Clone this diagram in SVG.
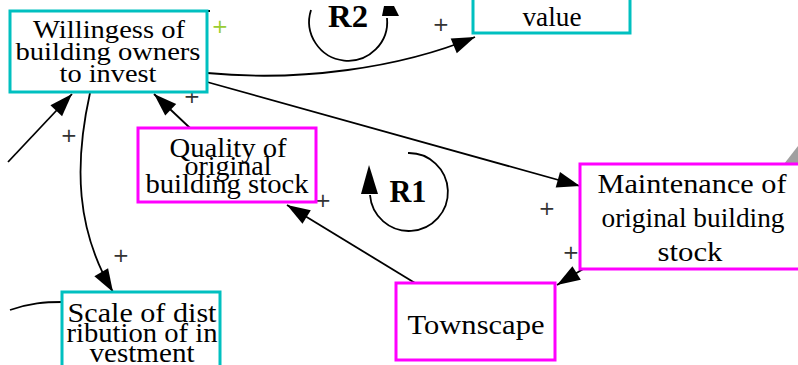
<svg xmlns="http://www.w3.org/2000/svg" width="798" height="365" viewBox="0 0 798 365">
<style>
.teal{fill:#fff;stroke:#00c0c0;stroke-width:3}
.mag{fill:#fff;stroke:#ff00ff;stroke-width:3}
.t{font-family:"Liberation Serif",serif;font-size:28px;fill:#000;text-anchor:middle}
.w{font-size:26px}
.e{fill:none;stroke:#000;stroke-width:1.8}
.p{font-family:"DejaVu Sans",sans-serif;font-size:20px;fill:#333;text-anchor:middle}
.lp{font-family:"Liberation Serif",serif;font-size:31px;font-weight:bold;fill:#000;text-anchor:middle}
</style>
<defs>
<marker id="ah" markerUnits="userSpaceOnUse" markerWidth="24" markerHeight="18" refX="23" refY="8" orient="auto" overflow="visible">
<path d="M0,0 L23,8 L0,16 z" fill="#000"/>
</marker>
</defs>
<rect width="798" height="365" fill="#fff"/>

<g id="connectors">
<path class="e" d="M207,73 C300,82 400,68 475,37" marker-end="url(#ah)"/>
<path class="e" d="M207,82 L580,186" marker-end="url(#ah)"/>
<path class="e" d="M588,266 L557,285" marker-end="url(#ah)"/>
<path class="e" d="M415,283 L287,205" marker-end="url(#ah)"/>
<path class="e" d="M190,128 L154,94" marker-end="url(#ah)"/>
<path class="e" d="M90,93 C74,165 76,230 113,292" marker-end="url(#ah)"/>
<path class="e" d="M8,162 L72,94" marker-end="url(#ah)"/>
<path class="e" d="M10,310 C30,303 45,302 62,302"/>
<line x1="183" y1="11" x2="210" y2="11" stroke="#000" stroke-width="2"/>
<path class="e" d="M311,10 A39,39 0 1 0 387,18"/>
<polygon points="382,16 399,16 394,6 384,6" fill="#000"/>
<path class="e" d="M408,153 A39,39 0 1 1 370,195"/>
<polygon points="369,165 361,194 378,194" fill="#000"/>
<polygon points="784,164 798,146 798,163" fill="#a0a0a0"/>
<text class="p" x="441" y="31">+</text>
<text class="p" x="547" y="215">+</text>
<text class="p" x="571" y="259">+</text>
<text class="p" x="323" y="207">+</text>
<text class="p" x="192" y="103">+</text>
<text class="p" x="121" y="262">+</text>
<text class="p" x="69" y="142">+</text>
<text class="p" x="220" y="33" style="fill:#9acd32">+</text>
<text class="lp" x="348" y="27" textLength="40" lengthAdjust="spacingAndGlyphs">R2</text>
<text class="lp" x="408" y="202" textLength="37" lengthAdjust="spacingAndGlyphs">R1</text>
</g>

<g id="willingess">
<rect class="teal" x="10" y="11" width="197" height="81"/>
<text class="t w" x="109" y="38" textLength="152" lengthAdjust="spacingAndGlyphs">Willingess of</text>
<text class="t w" x="108" y="60" textLength="185" lengthAdjust="spacingAndGlyphs">building owners</text>
<text class="t w" x="108" y="82" textLength="97" lengthAdjust="spacingAndGlyphs">to invest</text>
</g>
<g id="value">
<rect class="teal" x="473" y="-20" width="157" height="53"/>
<text class="t" x="552" y="26" textLength="59" lengthAdjust="spacingAndGlyphs">value</text>
</g>
<g id="quality">
<rect class="mag" x="138" y="128" width="178" height="74"/>
<text class="t" x="228" y="157" textLength="117" lengthAdjust="spacingAndGlyphs">Quality of</text>
<text class="t" x="228" y="175" textLength="87" lengthAdjust="spacingAndGlyphs">original</text>
<text class="t" x="227" y="193" textLength="163" lengthAdjust="spacingAndGlyphs">building stock</text>
</g>
<g id="maintenance">
<rect class="mag" x="580" y="164" width="230" height="105"/>
<text class="t" x="692" y="193" textLength="189" lengthAdjust="spacingAndGlyphs">Maintenance of</text>
<text class="t" x="693" y="227" textLength="183" lengthAdjust="spacingAndGlyphs">original building</text>
<text class="t" x="690" y="261" textLength="65" lengthAdjust="spacingAndGlyphs">stock</text>
</g>
<g id="townscape">
<rect class="mag" x="396" y="283" width="159" height="77"/>
<text class="t" x="476" y="334" textLength="137" lengthAdjust="spacingAndGlyphs">Townscape</text>
</g>
<g id="scale">
<rect class="teal" x="62" y="292" width="158" height="90"/>
<text class="t" x="142" y="322" textLength="149" lengthAdjust="spacingAndGlyphs">Scale of dist</text>
<text class="t" x="142" y="342" textLength="151" lengthAdjust="spacingAndGlyphs">ribution of in</text>
<text class="t" x="142" y="362" textLength="105" lengthAdjust="spacingAndGlyphs">vestment</text>
</g>
</svg>
